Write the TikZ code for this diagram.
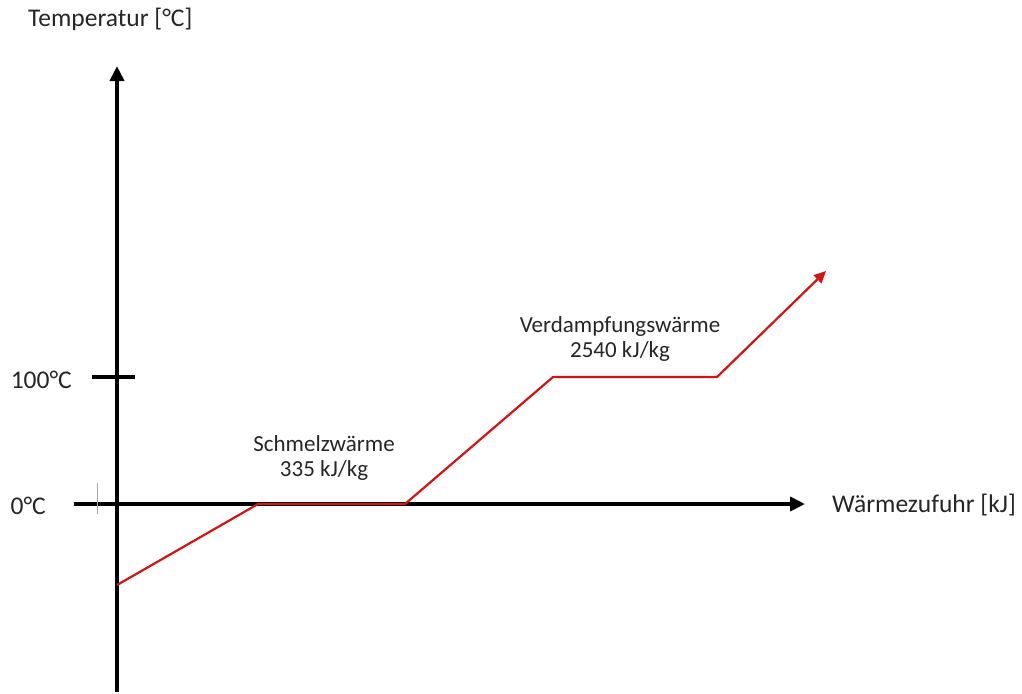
\documentclass[tikz,border=0pt]{standalone}
\usepackage{fontspec}
\setmainfont{Carlito}
\usepackage{tikz}
\usetikzlibrary{arrows.meta,positioning}
\definecolor{kurve}{RGB}{210,20,20}

\begin{document}
\begin{tikzpicture}[x=1pt,y=-1pt,
    achse/.style={line width=4pt,-{Triangle[width=14pt,length=15pt]}},
    beschr/.style={font=\fontsize{25.5}{30}\selectfont,text=black!85,inner sep=0pt},
    phase/.style={beschr,font=\fontsize{23}{25.5}\selectfont,align=center}]
        \useasboundingbox (0,0) rectangle (1022,693);

        % Achsen
        \coordinate (y_u) at (117,692);
        \coordinate (y_o) at (117,66);
        \coordinate (x_l) at (74,504);
        \coordinate (x_r) at (805,504);
        \draw[achse] (y_u) -- (y_o);
        \draw[achse] (x_l) -- (x_r);
        \coordinate (t_l) at (92,377);
        \coordinate (t_r) at (135,377);
        \draw[line width=4pt] (t_l) -- (t_r);
        \coordinate (n_o) at (97,483);
        \coordinate (n_u) at (97,514);
        \draw[black!35,line width=0.8pt] (n_o) -- (n_u);

        \node[beschr,anchor=west]  (temp)  at (28,19)   {Temperatur [°C]};
        \node[beschr,anchor=east]  (hundert) at (72,380) {100°C};
        \node[beschr,anchor=east]  (null)  at (46,506)  {0°C};
        \node[beschr,anchor=west]  (waerme) at (832,505) {Wärmezufuhr [kJ]};

        % Kurve
        \coordinate (k_0) at (117,585);
        \coordinate (k_1) at (258,504);
        \coordinate (k_2) at (405,504);
        \coordinate (k_3) at (553,377);
        \coordinate (k_4) at (717,377);
        \coordinate (k_5) at (826,271);
        \draw[kurve,line width=2.2pt,line join=round,-{Triangle[width=11pt,length=12pt]}]
            (k_0) -- (k_1) -- (k_2) -- (k_3) -- (k_4) -- (k_5);

        \node[phase] (schmelz) at (324,458) {Schmelzwärme\\335 kJ/kg};
        \node[phase] (verdampf) at (620,339) {Verdampfungswärme\\2540 kJ/kg};
\end{tikzpicture}
\end{document}
